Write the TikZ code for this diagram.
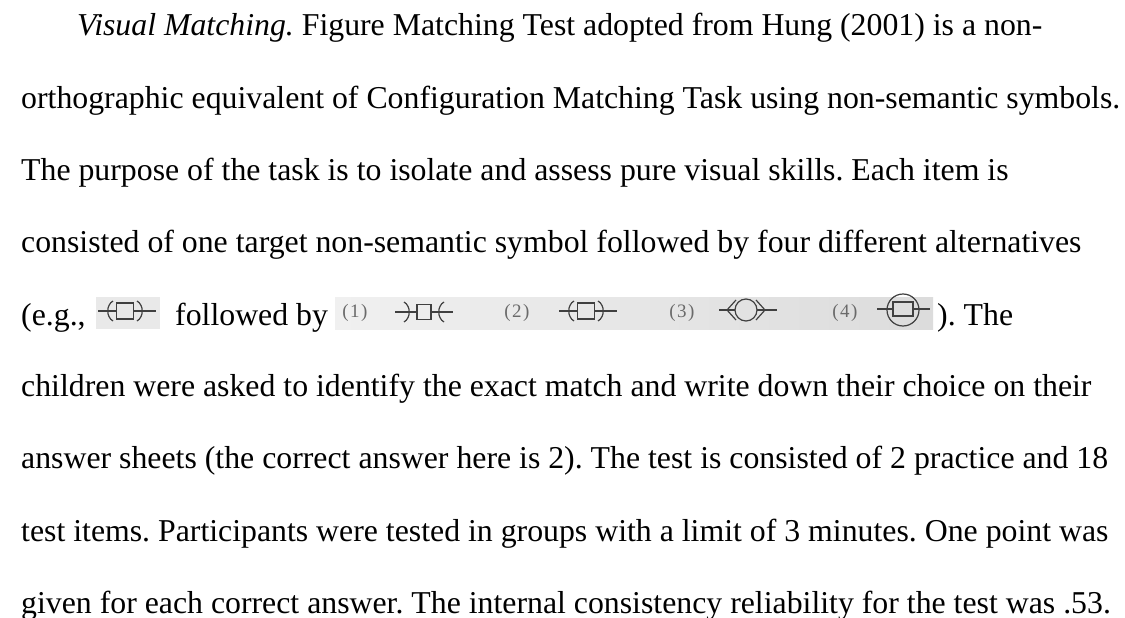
\documentclass[tikz,border=0pt]{standalone}
\usepackage{fontspec}
\setmainfont{Liberation Serif}
\frenchspacing
\definecolor{symgray}{HTML}{404040}
\definecolor{numgray}{HTML}{6A6A6A}
\definecolor{boxgray}{HTML}{E9E9E9}
\definecolor{boxleft}{HTML}{F0F0F0}
\definecolor{boxright}{HTML}{DCDCDC}
\tikzset{
  txt/.style={anchor=base west,inner sep=0pt,font=\fontsize{31.8}{36}\selectfont},
  num/.style={inner sep=0pt,text=numgray,font=\fontsize{19}{22}\selectfont},
  symline/.style={draw=symgray,line width=1.2pt},
  parsym/.pic={
    \draw[symline] (-27,0)--(-8.5,0) (8.5,0)--(31,0);
    \draw[symline] (-8.5,-8) rectangle (8.5,8);
    \draw[symline] (-12,-10) .. controls (-19,-6) and (-19,6) .. (-12,10);
    \draw[symline] (12,-10) .. controls (19,-6) and (19,6) .. (12,10);
  },
  revsym/.pic={
    \draw[symline] (-29,0)--(-7,0) (7,0)--(29,0);
    \draw[symline] (-7,-7.5) rectangle (7,7.5);
    \draw[symline] (-20,-10) .. controls (-13,-6) and (-13,6) .. (-20,10);
    \draw[symline] (20,-10) .. controls (13,-6) and (13,6) .. (20,10);
  },
  chevsym/.pic={
    \draw[symline] (-27,0)--(-11,0) (11,0)--(31,0);
    \draw[symline] (0,0) circle[radius=11];
    \draw[symline] (-10,-10)--(-19,0)--(-10,10);
    \draw[symline] (10,-10)--(19,0)--(10,10);
  },
  circsym/.pic={
    \draw[symline] (-26,0)--(-10,0) (10,0)--(27,0);
    \draw[symline] (0,1) circle[radius=16];
    \draw[symline] (-10,-7) rectangle (10,7);
  }
}
\newcommand{\numlbl}[1]{(\hspace{1.5pt}#1\hspace{1.5pt})}
\begin{document}
\begin{tikzpicture}[x=1pt,y=-1pt]
\useasboundingbox (0,0) rectangle (1125,618);
\fill[white] (0,0) rectangle (1125,618);

\node[txt] (l1) at (77,36) {\textit{Visual Matching.} Figure Matching Test adopted from Hung (2001) is a non-};
\node[txt] (l2) at (21,108) {orthographic equivalent of Configuration Matching Task using non-semantic symbols.};
\node[txt] (l3) at (21,180) {The purpose of the task is to isolate and assess pure visual skills. Each item is};
\node[txt] (l4) at (21,252) {consisted of one target non-semantic symbol followed by four different alternatives};
\node[txt] (l5a) at (21,325) {(e.g.,};
\node[txt] (l5b) at (175,325) {followed by};
\node[txt] (l5c) at (937,325) {). The};
\node[txt] (l6) at (21,396) {children were asked to identify the exact match and write down their choice on their};
\node[txt] (l7) at (21,468) {answer sheets (the correct answer here is 2). The test is consisted of 2 practice and 18};
\node[txt] (l8) at (21,541) {test items. Participants were tested in groups with a limit of 3 minutes. One point was};
\node[txt] (l9) at (21,613) {given for each correct answer. The internal consistency reliability for the test was .53.};

% target image
\fill[boxgray] (96,297) rectangle (160,329);
\pic at (125,311) {parsym};

% alternatives image
\shade[left color=boxleft,right color=boxright] (335,297) rectangle (933,329);
\node[num] (n1) at (355,313) {\numlbl{1}};
\node[num] (n2) at (517,313) {\numlbl{2}};
\node[num] (n3) at (682,313) {\numlbl{3}};
\node[num] (n4) at (845,313) {\numlbl{4}};
\pic at (424,312) {revsym};
\pic at (586,311) {parsym};
\pic at (746,310) {chevsym};
\pic at (903,309) {circsym};
\end{tikzpicture}
\end{document}
